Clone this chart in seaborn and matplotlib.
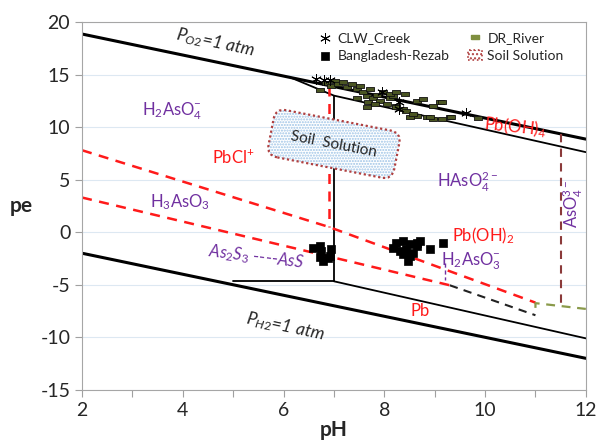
import numpy as np
import pandas as pd
import matplotlib.pyplot as plt
import seaborn as sns
from matplotlib.patches import FancyBboxPatch, Patch
from matplotlib.transforms import Affine2D

# sample points
clw_ph = [6.65, 6.8, 6.92, 7.95, 8.3, 8.3, 9.62]
clw_pe = [14.6, 14.5, 14.5, 13.3, 12.4, 11.7, 11.3]

bang_ph = [6.59, 6.72, 6.75, 6.95, 6.92, 6.72, 6.79, 6.89,
           8.24, 8.38, 8.18, 8.31, 8.44, 8.51, 8.64, 8.71, 8.51, 8.47,
           8.57, 8.9, 9.17, 8.64, 8.37]
bang_pe = [-1.46, -1.3, -1.78, -1.62, -2.25, -2.4, -2.73, -2.41,
           -0.98, -0.83, -1.46, -1.78, -1.62, -1.14, -0.98, -0.83, -2.25, -2.73,
           -1.94, -1.62, -0.98, -1.3, -2.1]

dr_ph = [6.72, 6.85, 6.95, 7.02, 7.09, 7.18, 7.25, 7.35, 7.45, 7.51, 7.58, 7.65,
         7.71, 7.78, 7.85, 7.91, 7.98, 8.05, 8.11, 8.18, 8.24, 7.68, 7.81, 7.65,
         7.45, 8.11, 8.24, 8.41, 8.64, 8.77, 8.96, 9.1, 9.3, 8.84, 8.97, 8.64,
         8.51, 8.24, 8.37, 8.44, 8.57, 8.9, 9.14, 9.33, 9.14, 9.85]
dr_pe = [13.5, 14.2, 13.9, 14.4, 14.1, 14.25, 13.78, 14.1, 13.6, 13.9, 13.3, 13.0,
         13.6, 12.8, 13.1, 12.5, 13.3, 12.2, 12.8, 13.0, 12.03, 12.35, 12.2, 11.9,
         12.8, 13.14, 13.3, 13.2, 12.5, 12.67, 12.03, 12.35, 10.92, 10.92, 10.76, 11.08,
         10.98, 11.88, 11.71, 11.55, 11.24, 10.92, 10.76, 10.92, 12.35, 10.9]

# stability field boundaries
o2_ph, o2_pe = [2, 12], [18.86, 8.86]
h2_ph, h2_pe = [2, 12], [-2, -12]
pb4_ph, pb4_pe = [6.15, 7.0, 12], [14.7, 13.0, 7.62]
pbv_ph, pbv_pe = [7.0, 7.0], [13.0, -4.67]
as2s3_ph, as2s3_pe = [5.0, 7.0], [-4.67, -4.67]
pb_ph, pb_pe = [7.0, 12], [-4.67, -10.1]

red1_ph, red1_pe = [2, 6.9, 11.0], [7.8, 0.5, -6.7]
red2_ph, red2_pe = [2, 9.3], [3.3, -5.05]
redv_ph, redv_pe = [6.9, 6.9], [13.96, 0.5]
blk_ph, blk_pe = [9.3, 11.0], [-5.05, -7.9]
brn_ph, brn_pe = [11.5, 11.5], [9.35, -6.9]
grn_ph, grn_pe = [11.0, 11.0, 12.0], [-7.2, -6.75, -7.3]
pur_ph, pur_pe = [9.2, 9.2], [-2.9, -4.5]

sns.set_style("white")
plt.rcParams['font.family'] = ['Lato', 'DejaVu Sans']
plt.rcParams['mathtext.fontset'] = 'custom'
plt.rcParams['mathtext.rm'] = 'Lato'
plt.rcParams['mathtext.it'] = 'Lato:italic'
plt.rcParams['mathtext.bf'] = 'Lato:bold'
plt.rcParams['axes.unicode_minus'] = False

fig = plt.figure(figsize=(5.99, 4.41), dpi=100)
ax = fig.add_axes([0.137, 0.116, 0.841, 0.834])

red = '#ff1a1a'
purple = '#7030a0'

ax.plot(o2_ph, o2_pe, color='black', lw=2.2)
ax.plot(h2_ph, h2_pe, color='black', lw=2.2)
ax.plot(pb4_ph, pb4_pe, color='black', lw=1.3)
ax.plot(pbv_ph, pbv_pe, color='black', lw=1.3)
ax.plot(as2s3_ph, as2s3_pe, color='black', lw=1.3)
ax.plot(pb_ph, pb_pe, color='black', lw=1.3)

dash = (0, (4, 3))
ax.plot(red1_ph, red1_pe, color=red, lw=1.8, ls=dash)
ax.plot(red2_ph, red2_pe, color=red, lw=1.8, ls=dash)
ax.plot(redv_ph, redv_pe, color=red, lw=1.8, ls=dash)
ax.plot(blk_ph, blk_pe, color='#222222', lw=1.5, ls=dash)
ax.plot(brn_ph, brn_pe, color='#8b3a3a', lw=1.5, ls=dash)
ax.plot(grn_ph, grn_pe, color='#8a9a4a', lw=1.6, ls=dash)
ax.plot(pur_ph, pur_pe, color=purple, lw=1.0, ls=(0, (3, 2)))

# soil solution box, rotated in screen space
ax.set_xlim(2, 12)
ax.set_ylim(-15, 20)
cx, cy = ax.transData.transform((7.0, 8.4))
rot = Affine2D().rotate_deg_around(cx, cy, -11)
box_bg = FancyBboxPatch((cx - 64, cy - 24), 128, 48,
                        boxstyle="round,pad=0,rounding_size=11",
                        facecolor='white', edgecolor='#9dc3e6', hatch='......',
                        lw=0, transform=rot, zorder=2)
box_edge = FancyBboxPatch((cx - 64, cy - 24), 128, 48,
                          boxstyle="round,pad=0,rounding_size=11",
                          facecolor='none', edgecolor='#b04040', ls=(0, (1, 1.2)),
                          lw=1.6, transform=rot, zorder=3)
ax.add_patch(box_bg)
ax.add_patch(box_edge)
ax.text(7.0, 8.4, 'Soil  Solution', fontsize=11, rotation=-11,
        ha='center', va='center', rotation_mode='anchor', zorder=4)

rect = [(-1, -0.5), (1, -0.5), (1, 0.5), (-1, 0.5), (-1, -0.5)]
sns.scatterplot(x=dr_ph, y=dr_pe, marker=rect, s=32, color='#4a5522',
                edgecolor='#111111', linewidth=0.6, ax=ax, label='DR_River', zorder=5)
sns.scatterplot(x=bang_ph, y=bang_pe, marker='s', s=30, color='black',
                edgecolor='black', linewidth=0.5, ax=ax, label='Bangladesh-Rezab', zorder=5)
sns.scatterplot(x=clw_ph, y=clw_pe, marker=(6, 2, 0), s=50, color='black',
                edgecolor='black', linewidth=0.7, ax=ax, label='CLW_Creek', zorder=6)

# labels
ax.text(4.64, 18.0, r'$P_{O2}$=1 atm', fontsize=12.5, style='italic', rotation=-12,
        ha='center', va='center', rotation_mode='anchor')
ax.text(6.03, -9.0, r'$P_{H2}$=1 atm', fontsize=12.5, style='italic', rotation=-12,
        ha='center', va='center', rotation_mode='anchor')
ax.text(3.79, 11.5, r'$\mathregular{H_2AsO_4^{-}}$', fontsize=12, color=purple,
        ha='center', va='center')
ax.text(3.94, 2.9, r'$\mathregular{H_3AsO_3}$', fontsize=12, color=purple,
        ha='center', va='center')
ax.text(9.66, 4.8, r'$\mathregular{HAsO_4^{2-}}$', fontsize=12, color=purple,
        ha='center', va='center')
ax.text(9.72, -2.8, r'$\mathregular{H_2AsO_3^{-}}$', fontsize=12, color=purple,
        ha='center', va='center')
ax.text(11.75, 2.7, r'$\mathregular{AsO_4^{3-}}$', fontsize=12, color=purple,
        rotation=90, ha='center', va='center')
ax.text(5.45, -2.4, r'$As_2S_3$ ----$AsS$', fontsize=12, color=purple,
        rotation=-7, ha='center', va='center', rotation_mode='anchor')
ax.text(5.0, 7.2, r'$\mathregular{PbCl^{+}}$', fontsize=12, color=red,
        ha='center', va='center')
ax.text(10.6, 10.0, r'$\mathregular{Pb(OH)_4}$', fontsize=12, color=red,
        rotation=-6, ha='center', va='center', rotation_mode='anchor')
ax.text(9.96, -0.3, r'$\mathregular{Pb(OH)_2}$', fontsize=12, color=red,
        ha='center', va='center')
ax.text(8.72, -7.5, 'Pb', fontsize=12, color=red, ha='center', va='center')

# axes styling
ax.set_xticks(np.arange(2, 13, 2))
ax.set_xticks(np.arange(2, 13, 1), minor=True)
ax.set_yticks(np.arange(-15, 21, 5))
ax.tick_params(axis='both', which='both', direction='out', length=5, width=0.8,
               color='#a0a0a0', labelsize=14, bottom=True, left=True)
ax.yaxis.grid(True, color='#dde8f2', lw=0.8)
ax.set_axisbelow(True)
for s in ax.spines.values():
    s.set_color('#a6a6a6')
    s.set_linewidth(0.8)
ax.set_xlabel('pH', fontsize=15, fontweight='bold', labelpad=1)
ax.set_ylabel('pe', fontsize=15, fontweight='bold', rotation=0, labelpad=14,
              va='center')

h, l = ax.get_legend_handles_labels()
hd = dict(zip(l, h))
soil = Patch(facecolor='white', edgecolor='#b04040', hatch='....', ls=':', lw=1.2)
dr_handle = plt.Line2D([], [], marker=rect, ls='none', markersize=6,
                       markerfacecolor='#7f8f3f', markeredgecolor='#7f8f3f')
ax.legend([hd['CLW_Creek'], hd['Bangladesh-Rezab'], dr_handle, soil],
          ['CLW_Creek', 'Bangladesh-Rezab', 'DR_River', 'Soil Solution'],
          ncol=2, loc='upper right', bbox_to_anchor=(0.975, 1.0), frameon=False,
          fontsize=10, handlelength=1.0, handletextpad=0.4, columnspacing=1.3,
          labelspacing=0.45, borderaxespad=0.3)

fig.savefig('out.png', dpi=100)
